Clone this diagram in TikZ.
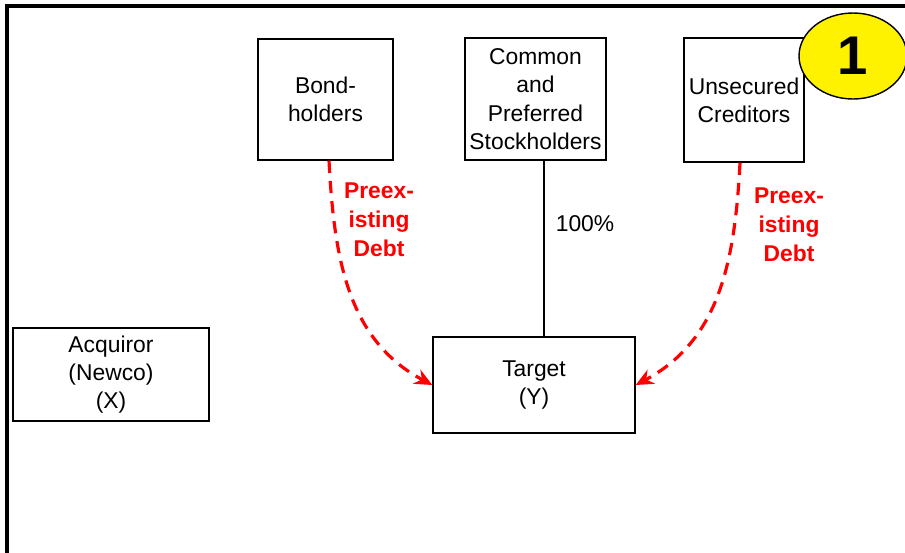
\documentclass[tikz,border=0pt]{standalone}
\usepackage{fontspec}
\setmainfont{Liberation Sans}
\usepackage{tikz}
\usetikzlibrary{positioning,calc,fit,shapes.geometric}
\usetikzlibrary{arrows.meta}

\tikzset{
	party/.style={draw, thick, align=center, inner sep=1pt, font=\fontsize{13}{16.1}\selectfont},
	debt/.style={red, line width=1.8pt, dash pattern=on 7pt off 4.5pt, -{Stealth[length=10pt,width=9pt]}},
	debtlabel/.style={red, align=center, font=\fontsize{13}{16.4}\selectfont\bfseries},
}

\begin{document}
\begin{tikzpicture}[x=0.02cm, y=-0.02cm]
	\useasboundingbox (0,0) rectangle (905,552);
	\clip (0,0) rectangle (905,552);
	\draw [line width=2.2pt] (7,560) -- (7,6) -- (915,6);

	\begin{scope}[every node/.style={party}]
	    \node[minimum width=2.7cm, minimum height=2.42cm] (bond) at (325.5,99.5) {Bond-\\holders};
	    \node[minimum width=2.82cm, minimum height=2.44cm] (stock) at (535.5,99) {Common\\and\\Preferred\\Stockholders};
	    \node[minimum width=2.4cm, minimum height=2.48cm] (unsec) at (744,100) {Unsecured\\Creditors};
	    \node[minimum width=3.92cm, minimum height=1.86cm] (acq) at (111,374.5) {Acquiror\\(Newco)\\(X)};
	    \node[minimum width=4.04cm, minimum height=1.92cm] (target) at (534,385) {Target\\(Y)};
	\end{scope}

	\node[draw, thick, fill=yellow, ellipse, minimum width=2.16cm, minimum height=1.72cm, inner sep=0pt,
	      font=\fontsize{31}{33}\selectfont\bfseries] (step1) at (853,56) {1};

	\node[font=\fontsize{13}{15.9}\selectfont] (pct) at (585,224) {100\%};
	\node[debtlabel] (debtL) at (379,220) {Preex-\\isting\\Debt};
	\node[debtlabel] (debtR) at (789,225) {Preex-\\isting\\Debt};

	\draw [thick] ([xshift=0.17cm]stock.south) -- ([xshift=0.17cm]stock.south |- target.north);
	\draw [debt] ([xshift=0.07cm]bond.south) to[out=-87, in=152] (target.west);
	\draw [debt] ([xshift=-0.08cm]unsec.south) to[out=-93, in=28] (target.east);

\end{tikzpicture}
\end{document}
